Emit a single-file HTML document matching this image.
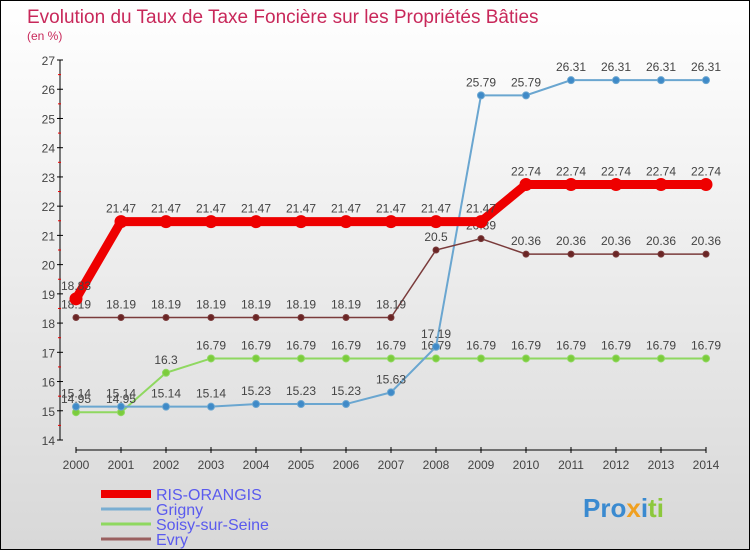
<!DOCTYPE html>
<html><head><meta charset="utf-8"><style>
body{margin:0}
#wrap{width:748px;height:548px;border:1px solid #000;background:linear-gradient(#fff,#d8d8d8);position:relative;font-family:"Liberation Sans",sans-serif;overflow:hidden}
</style></head><body>
<div id="wrap">
<svg id="chart" width="748" height="548"></svg>
</div>
<script>
const years=["2000","2001","2002","2003","2004","2005","2006","2007","2008","2009","2010","2011","2012","2013","2014"];
const ris=[18.83,21.47,21.47,21.47,21.47,21.47,21.47,21.47,21.47,21.47,22.74,22.74,22.74,22.74,22.74];
const grigny=[15.14,15.14,15.14,15.14,15.23,15.23,15.23,15.63,17.19,25.79,25.79,26.31,26.31,26.31,26.31];
const soisy=[14.95,14.95,16.3,16.79,16.79,16.79,16.79,16.79,16.79,16.79,16.79,16.79,16.79,16.79,16.79];
const evry=[18.19,18.19,18.19,18.19,18.19,18.19,18.19,18.19,20.5,20.89,20.36,20.36,20.36,20.36,20.36];
const yTicks=[14,15,16,17,18,19,20,21,22,23,24,25,26,27];
const seriesNames=["RIS-ORANGIS","Grigny","Soisy-sur-Seine","Evry"];

const svg=document.getElementById('chart');const NS='http://www.w3.org/2000/svg';
const X=i=>75+45*i;const Y=v=>439-(v-14)*29.23;
function mk(t,a,p){const e=document.createElementNS(NS,t);for(const k in a)e.setAttribute(k,a[k]);(p||svg).appendChild(e);return e;}
let t=mk('text',{x:26,y:22,fill:'#c8285a','font-size':19});t.textContent='Evolution du Taux de Taxe Foncière sur les Propriétés Bâties';


t=mk('text',{x:26,y:39,fill:'#c8285a','font-size':12});t.textContent='(en %)';


let a=mk('line',{x1:59,y1:Y(27),x2:59,y2:Y(14),stroke:'#000'});


yTicks.forEach(v=>{mk('line',{x1:56,x2:62,y1:Y(v),y2:Y(v),stroke:'#000'});
if(v<27)mk('line',{x1:57,x2:60,y1:Y(v+0.5),y2:Y(v+0.5),stroke:'#e00'});
const l=mk('text',{x:54,y:Y(v)+5,'text-anchor':'end','font-size':12,fill:'#444'});l.textContent=v;

});
a=mk('line',{x1:X(0),y1:449,x2:X(14),y2:449,stroke:'#000'});


years.forEach((y,i)=>{mk('line',{x1:X(i),x2:X(i),y1:446,y2:452,stroke:'#000'});
const l=mk('text',{x:X(i),y:468,'text-anchor':'middle','font-size':12,fill:'#444'});l.textContent=y;

});
function series(d,color,w,r,name,dot){const g=mk('g',{});


mk('polyline',{points:d.map((v,i)=>X(i)+','+Y(v)).join(' '),fill:'none',stroke:color,'stroke-width':w},g);
d.forEach((v,i)=>{const c=mk('circle',{cx:X(i),cy:Y(v),r:r,fill:dot,stroke:color},g);


const l=mk('text',{x:X(i),y:Y(v)-9,'text-anchor':'middle','font-size':12,fill:'#444'},g);l.textContent=v;

});}
series(soisy,'#8fd860',2,3.5,'soisy','#7ccc3c');
series(grigny,'#6aa6d0',2,3.5,'grigny','#3f8ac8');
series(evry,'#7a3b3b',1.5,3,'evry','#6a2525');
series(ris,'#ee0000',9,6,'ris-orangis','#ee0000');
const lc=['#ee0000','#7aaed2','#8fd860','#9a6060'],lw=[8,3,3,3];
seriesNames.forEach((n,i)=>{const g=mk('g',{});


mk('line',{x1:100,x2:150,y1:493+i*15,y2:493+i*15,stroke:lc[i],'stroke-width':lw[i]},g);
const l=mk('text',{x:155,y:499+i*15,'font-size':16,fill:'#5a5aee'},g);l.textContent=n;});
t=mk('text',{x:582,y:516,'font-size':26,'font-weight':'bold',fill:'#3a8ad0'});
t.innerHTML='<tspan fill="#3a8ad0">Pro</tspan><tspan fill="#f0a020">x</tspan><tspan fill="#3a8ad0">i</tspan><tspan fill="#8cc83c">ti</tspan>';


</script>
</body></html>
